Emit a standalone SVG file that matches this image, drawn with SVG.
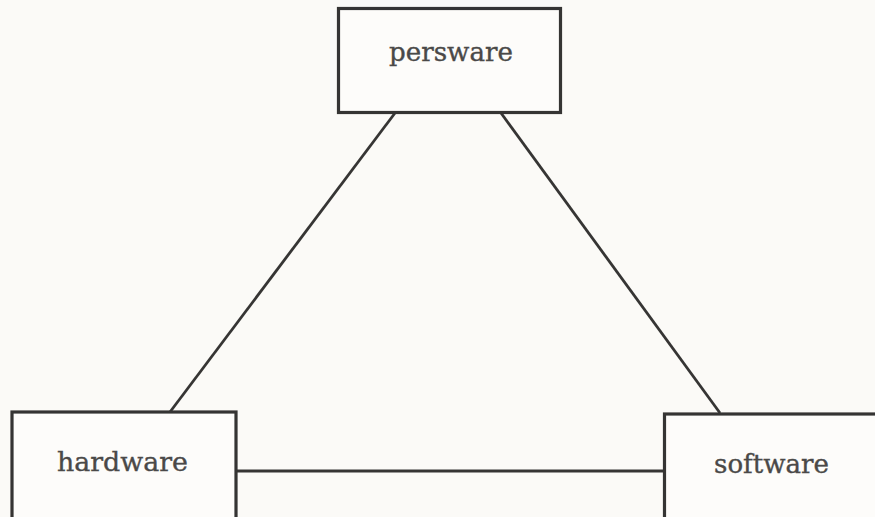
<svg xmlns="http://www.w3.org/2000/svg" width="875" height="517" viewBox="0 0 875 517">
  <style>
    .box { fill: #fdfcfa; stroke: #353433; stroke-width: 3.2; }
    .link { stroke: #363534; stroke-width: 2.8; fill: none; stroke-linecap: butt; }
    .label { font-family: "DejaVu Serif", "Liberation Serif", serif; font-size: 26px; fill: #4a4948; stroke: #4a4948; stroke-width: 0.35; }
  </style>
  <rect x="0" y="0" width="875" height="517" fill="#fbfaf7"/>

  <g id="connectors">
    <line class="link" x1="395" y1="113" x2="170" y2="412"/>
    <line class="link" x1="501" y1="113" x2="720" y2="413"/>
    <line class="link" x1="236" y1="471" x2="664" y2="471"/>
  </g>

  <g id="persware">
    <rect class="box" x="338.5" y="8.5" width="222" height="104"/>
    <text class="label" x="389" y="61" textLength="124" lengthAdjust="spacingAndGlyphs">persware</text>
  </g>

  <g id="hardware">
    <rect class="box" x="12" y="412" width="224" height="120"/>
    <text class="label" x="57" y="471" textLength="131" lengthAdjust="spacingAndGlyphs">hardware</text>
  </g>

  <g id="software">
    <rect class="box" x="664.5" y="414" width="230" height="120"/>
    <text class="label" x="714" y="473" textLength="115" lengthAdjust="spacingAndGlyphs">software</text>
  </g>
</svg>
